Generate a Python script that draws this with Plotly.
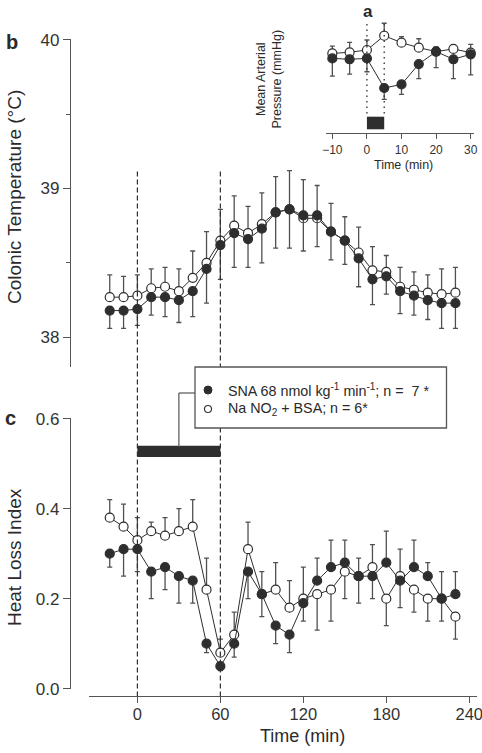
import plotly.graph_objects as go

W, H = 482, 753
FONT = "Liberation Sans, Arial, Helvetica, sans-serif"
DARK = "#2e2e2e"
AXC = "#555555"
ERRC = "#505050"

# ---------------- data ----------------
time_min = [-20, -10, 0, 10, 20, 30, 40, 50, 60, 70, 80, 90, 100, 110, 120,
            130, 140, 150, 160, 170, 180, 190, 200, 210, 220, 230]

# panel b: colonic temperature (deg C)
sna_temp = [38.18, 38.18, 38.19, 38.27, 38.27, 38.25, 38.31, 38.46, 38.62, 38.70,
            38.66, 38.73, 38.84, 38.86, 38.82, 38.82, 38.71, 38.65, 38.53, 38.39,
            38.41, 38.31, 38.28, 38.25, 38.23, 38.23]
sna_temp_err = [0.12, 0.12, 0.11, 0.12, 0.13, 0.15, 0.17, 0.23, 0.23, 0.23,
                0.19, 0.23, 0.24, 0.26, 0.24, 0.21, 0.19, 0.16, 0.19, 0.17,
                0.12, 0.15, 0.13, 0.13, 0.17, 0.17]
nano2_temp = [38.27, 38.27, 38.28, 38.33, 38.34, 38.31, 38.40, 38.50, 38.65, 38.75,
              38.70, 38.76, 38.84, 38.86, 38.80, 38.80, 38.71, 38.65, 38.57, 38.45,
              38.44, 38.34, 38.32, 38.30, 38.29, 38.30]
nano2_temp_err = [0.15, 0.14, 0.14, 0.13, 0.13, 0.15, 0.18, 0.21, 0.21, 0.20,
                  0.18, 0.21, 0.24, 0.26, 0.26, 0.22, 0.19, 0.16, 0.17, 0.16,
                  0.11, 0.13, 0.12, 0.12, 0.17, 0.17]
zeros = [0] * len(time_min)

# panel c: heat loss index
sna_hli = [0.30, 0.31, 0.31, 0.26, 0.27, 0.25, 0.24, 0.10, 0.05, 0.10, 0.26, 0.21, 0.14,
           0.12, 0.19, 0.24, 0.27, 0.28, 0.25, 0.25, 0.28, 0.24, 0.27, 0.25, 0.20, 0.21]
sna_hli_err_up = [0, 0, 0, 0, 0, 0, 0, 0, 0, 0, 0, 0, 0,
                  0, 0, 0.05, 0.06, 0.05, 0, 0, 0.07, 0, 0.06, 0.03, 0.06, 0.05]
sna_hli_err_dn = [0.03, 0.06, 0.05, 0.06, 0.05, 0.06, 0.05, 0.02, 0.01, 0.03, 0.06, 0.05, 0.04,
                  0.04, 0.04, 0, 0, 0, 0.06, 0.05, 0, 0.06, 0, 0, 0, 0]
nano2_hli = [0.38, 0.36, 0.33, 0.35, 0.34, 0.35, 0.36, 0.22, 0.08, 0.12, 0.31, 0.21, 0.22,
             0.18, 0.20, 0.21, 0.22, 0.26, 0.25, 0.27, 0.20, 0.25, 0.22, 0.20, 0.20, 0.16]
nano2_hli_err_up = [0.04, 0.05, 0.05, 0.02, 0.04, 0.05, 0.06, 0.07, 0.03, 0.05, 0.06, 0.05, 0.06,
                    0.06, 0.07, 0, 0, 0, 0.04, 0.05, 0, 0.06, 0, 0, 0, 0]
nano2_hli_err_dn = [0, 0, 0, 0, 0, 0, 0, 0, 0, 0, 0, 0, 0,
                    0, 0, 0.08, 0.07, 0.06, 0, 0, 0.06, 0, 0.05, 0.05, 0.05, 0.05]

# inset a: mean arterial pressure (mmHg)
inset_time = [-10, -5, 0, 5, 10, 15, 20, 25, 30]
sna_map = [134.0, 133.5, 134.0, 117.4, 119.4, 130.8, 137.8, 133.5, 136.3]
sna_map_err = [10.0, 8.3, 7.5, 6.4, 5.6, 8.2, 9.0, 10.9, 11.6]
nano2_map = [136.8, 137.4, 138.7, 146.7, 142.8, 140.0, 137.8, 139.3, 137.2]
nano2_map_err = [4.1, 5.6, 5.6, 7.0, 3.4, 5.0, 2.7, 2.2, 4.7]
inset_zeros = [0] * len(inset_time)

infusion_main = [0, 60]   # min
infusion_inset = [0, 5]   # min

main_xticks = [0, 60, 120, 180, 240]
temp_ticks = [38, 39, 40]
hli_ticks = [0.0, 0.2, 0.4, 0.6]
hli_ticklabels = ["0.0", "0.2", "0.4", "0.6"]
inset_xticks = [-10, 0, 10, 20, 30]
inset_yticks = [100, 120, 140]

legend_labels = ["SNA 68 nmol kg<sup>-1</sup> min<sup>-1</sup>; n =  7 *",
                 "Na NO<sub>2</sub> + BSA; n = 6*"]


def fx(p):
    return p / W


def fy(p):
    return 1 - p / H


def series(x, y, up, dn, filled, xa, ya, size=9):
    return go.Scatter(
        x=x, y=y, xaxis=xa, yaxis=ya, mode="lines+markers",
        line=dict(color=DARK, width=1),
        marker=dict(size=size, symbol="circle", color=DARK if filled else "white",
                    line=dict(color=DARK, width=1.2)),
        error_y=dict(type="data", symmetric=False, array=up, arrayminus=dn,
                     color=ERRC, thickness=1.3, width=2.5),
        showlegend=False, hoverinfo="skip", cliponaxis=False)


fig = go.Figure()
# panel b
fig.add_trace(series(time_min, nano2_temp, nano2_temp_err, zeros, False, "x", "y"))
fig.add_trace(series(time_min, sna_temp, zeros, sna_temp_err, True, "x", "y"))
# panel c
fig.add_trace(series(time_min, nano2_hli, nano2_hli_err_up, nano2_hli_err_dn, False, "x", "y2"))
fig.add_trace(series(time_min, sna_hli, sna_hli_err_up, sna_hli_err_dn, True, "x", "y2"))
# inset
fig.add_trace(series(inset_time, nano2_map, nano2_map_err, inset_zeros, False, "x3", "y4", size=9))
fig.add_trace(series(inset_time, sna_map, inset_zeros, sna_map_err, True, "x3", "y4", size=9))

axis_common = dict(showline=True, linecolor=AXC, linewidth=1.3, ticks="outside",
                   tickcolor=AXC, tickwidth=1.3, showgrid=False, zeroline=False,
                   automargin=False, ticklabeloverflow="allow",
                   tickfont=dict(family=FONT, size=17, color="#333333"))
small_font = dict(family=FONT, size=12, color="#333333")

# main axes geometry (pixels)
MX0, MX1 = 89, 477
MRANGE = [-35, 245.6]
inset_px_per_mmHg = 1.783
iy_top, iy_bot = 29.3, 128.3
irange = [94.8, 150.3]
ext = 12  # px of headroom for the hidden data axis of the inset

fig.update_layout(
    width=W, height=H, autosize=False,
    margin=dict(l=0, r=0, t=0, b=0, pad=0, autoexpand=False),
    paper_bgcolor="white", plot_bgcolor="white", showlegend=False,
    font=dict(family=FONT, color="#333333"),
    xaxis=dict(domain=[fx(MX0), fx(MX1)], range=MRANGE, anchor="free", position=fy(696),
               tickvals=main_xticks, ticklen=6, ticklabelstandoff=-3,
               **{**axis_common, "tickfont": dict(family=FONT, size=16.5, color="#333333")}),
    yaxis=dict(domain=[fy(367.3), fy(39.3)], range=[37.799, 40.002], anchor="free",
               position=fx(70), tickvals=temp_ticks, ticklen=7,
               minor=dict(dtick=0.5, ticklen=4, tickcolor=AXC, tickwidth=1.3, ticks="outside"),
               **axis_common),
    yaxis2=dict(domain=[fy(688.7), fy(418.3)], range=[0, 0.6008], anchor="free",
                position=fx(70), tickvals=hli_ticks, ticktext=hli_ticklabels, ticklen=7,
                **axis_common),
    xaxis3=dict(domain=[fx(326), fx(474)], range=[-11.83, 30.96], anchor="free",
                position=fy(133.3), tickvals=inset_xticks, ticklen=5,
                **{**axis_common, "tickfont": small_font}),
    yaxis3=dict(domain=[fy(iy_bot), fy(iy_top)], range=irange, anchor="free",
                position=fx(319.3), tickvals=inset_yticks, ticklen=7,
                **{**axis_common, "tickfont": small_font}),
    yaxis4=dict(domain=[fy(iy_bot), fy(iy_top - ext)],
                range=[irange[0], irange[1] + ext / inset_px_per_mmHg],
                anchor="free", position=fx(319.3), visible=False, automargin=False),
)

shapes = []
# dashed infusion markers in main panels
for t in infusion_main:
    shapes.append(dict(type="line", xref="x", yref="paper", x0=t, x1=t,
                       y0=fy(171.5), y1=fy(696), line=dict(color=DARK, width=1.2, dash="5px,3px")))
# infusion bar (panel c)
shapes.append(dict(type="rect", xref="x", yref="y2", x0=infusion_main[0], x1=infusion_main[1],
                   y0=0.515, y1=0.54, fillcolor=DARK, line=dict(width=0)))
# connector from bar to legend box
mid_t = (infusion_main[0] + infusion_main[1]) / 2
shapes.append(dict(type="line", xref="x", yref="paper", x0=mid_t, x1=mid_t,
                   y0=fy(447), y1=fy(393), line=dict(color=AXC, width=1.2)))
conn_px = MX0 + (mid_t - MRANGE[0]) * (MX1 - MX0) / (MRANGE[1] - MRANGE[0])
shapes.append(dict(type="line", xref="paper", yref="paper", x0=fx(conn_px), x1=fx(195),
                   y0=fy(393), y1=fy(393), line=dict(color=AXC, width=1.2)))
# legend box
shapes.append(dict(type="rect", xref="paper", yref="paper", x0=fx(195), x1=fx(446.5),
                   y0=fy(428), y1=fy(367), fillcolor="white", line=dict(color=AXC, width=1.3)))
# legend symbols
shapes.append(dict(type="circle", xref="paper", yref="paper", x0=fx(204), x1=fx(212),
                   y0=fy(394), y1=fy(386), fillcolor=DARK, line=dict(color=DARK, width=1)))
shapes.append(dict(type="circle", xref="paper", yref="paper", x0=fx(204.5), x1=fx(211.5),
                   y0=fy(412.5), y1=fy(405.5), fillcolor="white", line=dict(color=DARK, width=1.1)))
# inset dotted lines and bar
for t in infusion_inset:
    shapes.append(dict(type="line", xref="x3", yref="paper", x0=t, x1=t,
                       y0=fy(24), y1=fy(116.7), line=dict(color=DARK, width=1.3, dash="1.5px,4px")))
shapes.append(dict(type="rect", xref="x3", yref="paper", x0=infusion_inset[0], x1=infusion_inset[1],
                   y0=fy(129.3), y1=fy(116.7), fillcolor=DARK, line=dict(width=0)))
fig.update_layout(shapes=shapes)


def ann(text, x, y, size, angle=0, bold=False, xanchor="center"):
    if bold:
        text = "<b>" + text + "</b>"
    return dict(text=text, x=fx(x), y=fy(y), xref="paper", yref="paper", showarrow=False,
                xanchor=xanchor, yanchor="middle", textangle=angle,
                font=dict(family=FONT, size=size, color="#2a2a2a"))


annotations = [
    ann("a", 368, 12, 17, bold=True),
    ann("b", 12, 42, 20, bold=True),
    ann("c", 10, 418, 20, bold=True),
    ann("Colonic Temperature (°C)", 14, 197, 19, angle=-90),
    ann("Heat Loss Index", 14, 557, 19, angle=-90),
    ann("Time (min)", 302, 736, 18),
    ann("Mean Arterial<br>Pressure (mmHg)", 268.5, 79, 12.5, angle=-90),
    ann("Time (min)", 403, 165, 12.5),
    ann(legend_labels[0], 226, 390, 14.3, xanchor="left"),
    ann(legend_labels[1], 226, 409, 14.3, xanchor="left"),
]
fig.update_layout(annotations=annotations)

fig.write_html("out.html", config={"displayModeBar": False},
               post_script="document.body.style.margin='0';document.body.style.padding='0';")
